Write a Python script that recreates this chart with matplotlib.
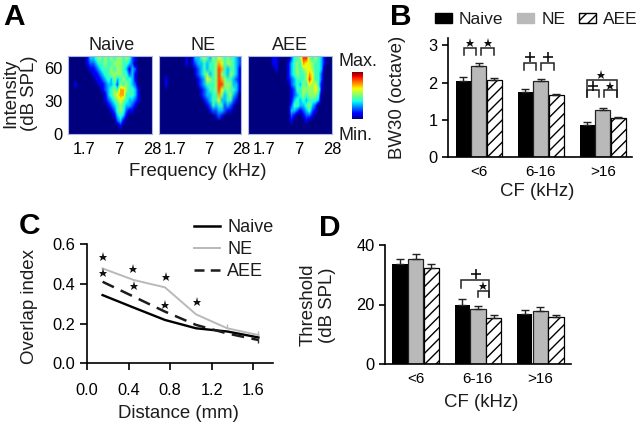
import numpy as np
import matplotlib
matplotlib.use('Agg')
import matplotlib.pyplot as plt
from matplotlib.patches import Patch
from matplotlib.lines import Line2D
from matplotlib.cm import ScalarMappable
from matplotlib.colors import Normalize

plt.rcParams['font.family'] = ['Liberation Sans', 'DejaVu Sans']
plt.rcParams['hatch.linewidth'] = 1.0
plt.rcParams['text.color'] = '#1c1c1c'
plt.rcParams['axes.linewidth'] = 1.2

W, H = 640, 423
TICK = 11.8
LABEL = 13.4

# Panel A: tuning maps, rows from 70 dB down to 0 dB (relative response, digits 0-9)
intensity_top = 71
freq_ticks = [1.7, 7, 28]
intensity_ticks = [0, 30, 60]
map_titles = ['Naive', 'NE', 'AEE']
map_naive = [
    "0000 0013 3454 5454 5545 4210 0000",
    "0000 0012 2344 5445 5544 3200 0000",
    "0000 0001 1234 4454 5543 1320 0000",
    "0000 0000 1123 4455 5544 2310 0000",
    "0000 0000 0112 3435 3454 4310 0000",
    "0010 0000 0011 2334 2545 4320 0000",
    "0000 0000 0001 2345 4775 4431 0000",
    "0000 0000 0000 1345 6774 4431 0000",
    "0000 0000 0000 1234 5654 3321 0000",
    "0000 0000 0000 0123 4543 3210 0000",
    "0000 0000 0000 0012 4542 1100 0000",
    "0000 0000 0000 0001 3431 0000 0000",
    "0000 0000 0000 0000 2310 0000 0000",
    "0000 0000 0000 0000 0100 0000 0000",
    "0000 0000 0000 0000 0000 0000 0000",
]
map_ne = [
    "0000 0000 0101 3345 4354 6545 4432",
    "0000 0000 0101 2334 3445 7645 5432",
    "0000 0000 0000 1234 3445 8743 4431",
    "0000 0000 0000 1234 5345 8543 5431",
    "0010 0000 0000 0123 6545 8754 4321",
    "0010 0000 0000 0123 4445 8855 5331",
    "0000 0000 0000 0012 3445 8645 4431",
    "0000 0000 0000 0012 3344 7534 5320",
    "0000 0000 0000 0001 2344 6334 4210",
    "0000 0000 0000 0000 1243 4423 2100",
    "0000 0000 0000 0000 0122 3321 1000",
    "0000 0000 0000 0000 0001 2100 0000",
    "0000 0000 0000 0000 0000 0000 0000",
    "0000 0000 0000 0000 0000 0000 0000",
    "0000 0000 0000 0000 0000 0000 0000",
]
map_aee = [
    "0000 0000 1100 0024 4588 5454 3100",
    "0000 0000 1100 0134 5476 6544 3100",
    "0000 0000 0100 0134 5456 6544 3000",
    "0000 0000 0000 0134 5445 7644 2000",
    "0000 0000 0000 0123 4445 8644 2000",
    "0000 0000 0000 0023 4354 6564 1000",
    "0000 0000 0000 0012 4455 5565 1000",
    "0000 0000 0000 0012 3454 5554 0000",
    "0000 0000 0000 0013 4343 4443 0000",
    "0000 0000 0000 0024 4334 5320 0000",
    "0000 0000 0000 0033 2123 4210 0000",
    "0000 0000 0000 0021 0012 2100 0000",
    "0000 0000 0000 0010 0001 0000 0000",
    "0000 0000 0000 0000 0000 0000 0000",
    "0000 0000 0000 0000 0000 0000 0000",
]

# Panel B
cf_groups = ['<6', '6-16', '>16']
bw_naive = [2.05, 1.75, 0.85]
bw_ne = [2.45, 2.05, 1.27]
bw_aee = [2.08, 1.67, 1.05]
bw_naive_err = [0.10, 0.08, 0.08]
bw_ne_err = [0.07, 0.04, 0.05]
bw_aee_err = [0.05, 0.03, 0.03]

# Panel C
distance = [0.15, 0.45, 0.75, 1.05, 1.35, 1.65]
overlap_naive = [0.343, 0.28, 0.218, 0.176, 0.16, 0.13]
overlap_ne = [0.477, 0.419, 0.382, 0.246, 0.176, 0.142]
overlap_aee = [0.41, 0.335, 0.26, 0.193, 0.15, 0.117]
overlap_ne_err = [0, 0, 0, 0, 0.02, 0.02]
overlap_naive_err = [0, 0, 0, 0, 0, 0.03]
stars_x = [0.155, 0.155, 0.445, 0.45, 0.76, 0.75, 1.06]
stars_y = [0.533, 0.454, 0.476, 0.387, 0.436, 0.295, 0.307]

# Panel D
th_naive = [33.6, 20.0, 16.8]
th_ne = [35.3, 18.5, 17.9]
th_aee = [32.4, 15.5, 15.8]
th_naive_err = [1.6, 1.7, 1.2]
th_ne_err = [1.7, 1.0, 1.1]
th_aee_err = [1.3, 0.9, 0.8]

fig = plt.figure(figsize=(W / 100, H / 100), dpi=100)


def box(x0, y0, x1, y1):
    return fig.add_axes([x0 / W, 1 - y1 / H, (x1 - x0) / W, (y1 - y0) / H])


def label(x, y, s, **kw):
    kw.setdefault('size', LABEL)
    kw.setdefault('ha', 'center')
    kw.setdefault('va', 'center')
    return fig.text(x / W, 1 - y / H, s, **kw)


def parse(rows):
    return np.array([[int(c) for c in r.replace(' ', '')] for r in rows], float)


# ---------- A
panels = [(68, 152), (159, 241), (248, 332)]
for (x0, x1), grid, title, tx in zip(panels, [map_naive, map_ne, map_aee], map_titles, [112, 203, 290]):
    ax = box(x0, 56, x1, 134)
    ax.imshow(parse(grid), cmap='jet', vmin=0, vmax=9.5, aspect='auto',
              interpolation='bilinear', extent=[-0.215, 4.805, 0, intensity_top])
    ax.set_xticks(np.log2(freq_ticks), [str(f) for f in freq_ticks], size=TICK)
    ax.tick_params(length=0, pad=6)
    if x0 == 68:
        ax.set_yticks(intensity_ticks, [str(v) for v in intensity_ticks], size=TICK)
        ax.tick_params(axis='y', pad=4)
    else:
        ax.set_yticks([])
    for s in ax.spines.values():
        s.set_color('#aab8e2')
        s.set_linewidth(0.8)
    label(tx, 45, title, size=13)

label(20, 93, 'Intensity\n(dB SPL)', rotation=90, linespacing=1.1, multialignment='center')
label(198, 171, 'Frequency (kHz)')

cax = box(352, 72, 363, 119)
cb = fig.colorbar(ScalarMappable(Normalize(0, 1), cmap='jet'), cax=cax)
cb.set_ticks([])
cb.outline.set_visible(False)
label(358, 62, 'Max.', size=13)
label(356, 135, 'Min.', size=13)


# ---------- bars
def bars(ax, a, b, c, ea, eb, ec):
    x = np.arange(3)
    w = 0.25
    kw = dict(capsize=3, error_kw=dict(lw=1, capthick=1, ecolor='#222222'))
    ax.bar(x - w, a, w * 0.97, yerr=[[0] * 3, ea], color='black', **kw)
    ax.bar(x, b, w * 0.97, yerr=[[0] * 3, eb], color='#b9b9b9', edgecolor='#222222', linewidth=0.9, **kw)
    ax.bar(x + w, c, w * 0.97, yerr=[[0] * 3, ec], color='white', edgecolor='black',
           hatch='///', linewidth=0.9, **kw)
    ax.set_xticks(x, cf_groups, size=11)
    ax.tick_params(axis='x', length=0, pad=6)
    ax.tick_params(axis='y', direction='out', length=4.6, width=1.2, labelsize=TICK, pad=3)
    ax.spines[['top', 'right']].set_visible(False)
    ax.patch.set_alpha(0)


def bracket(ax, x0, x1, top, y0, y1):
    ax.plot([x0, x0, x1, x1], [y0, top, top, y1], color='#222222', lw=1.1, clip_on=False, solid_joinstyle='miter')


def mark(ax, x, y, s='*'):
    ax.plot([x], [y], marker='*' if s == '*' else '+', ms=6.5 if s == '*' else 7, mew=0 if s == '*' else 1.2,
            color='#111111', clip_on=False, linestyle='none')


# ---------- B
ax = box(448, 38, 632, 157)
bars(ax, bw_naive, bw_ne, bw_aee, bw_naive_err, bw_ne_err, bw_aee_err)
ax.set_xlim(-0.5, 2.47)
ax.set_ylim(0, 3.2)
ax.set_yticks([0, 1, 2, 3])
for args in [(-0.24, -0.04, 2.94, 2.74, 2.74), (0.04, 0.24, 2.94, 2.74, 2.74),
             (0.727, 0.925, 2.52, 2.34, 2.34), (1.005, 1.21, 2.52, 2.34, 2.34),
             (1.74, 2.22, 2.07, 1.6, 1.6), (1.74, 1.94, 1.8, 1.6, 1.6), (2.01, 2.22, 1.8, 1.6, 1.6)]:
    bracket(ax, *args)
for x, y, s in [(-0.14, 3.07, '*'), (0.14, 3.07, '*'), (0.82, 2.7, '+'), (1.12, 2.7, '+'),
                (1.97, 2.2, '*'), (1.845, 1.92, '+'), (2.11, 1.92, '*')]:
    mark(ax, x, y, s)
handles = [Patch(facecolor='black', edgecolor='black'),
           Patch(facecolor='#b9b9b9', edgecolor='#b9b9b9'),
           Patch(facecolor='white', edgecolor='black', hatch='///')]
fig.legend(handles, map_titles, ncol=3, loc='center left', bbox_to_anchor=(435 / W, 1 - 20 / H),
           frameon=False, fontsize=12.5, borderpad=0, borderaxespad=0, handlelength=0.98,
           handleheight=0.52, handletextpad=0.4, columnspacing=0.8)
label(398, 97, 'BW30 (octave)', rotation=90)
label(537, 191, 'CF (kHz)')

# ---------- C
ax = box(87, 244, 273, 363.3)
ax.plot(distance, overlap_naive, color='black', lw=1.7)
ax.plot(distance, overlap_ne, color='#b9b9b9', lw=1.4)
ax.plot(distance, overlap_aee, color='#1c1c1c', lw=1.8, dashes=(5, 3))
ax.errorbar(distance, overlap_ne, yerr=[[0] * 6, overlap_ne_err], fmt='none', ecolor='#b9b9b9', lw=1)
ax.errorbar(distance, overlap_naive, yerr=[overlap_naive_err, [0] * 6], fmt='none', ecolor='#333333', lw=1)
ax.plot(stars_x, stars_y, linestyle='none', marker='*', ms=6.5, mew=0, color='#111111')
ax.set_xlim(0, 1.79)
ax.set_ylim(0, 0.6)
ax.set_xticks([0, 0.4, 0.8, 1.2, 1.6], ['0.0', '0.4', '0.8', '1.2', '1.6'])
ax.set_yticks([0, 0.2, 0.4, 0.6], ['0.0', '0.2', '0.4', '0.6'])
ax.tick_params(axis='both', direction='out', length=4.8, width=1.2, labelsize=TICK)
ax.tick_params(axis='x', pad=9.5)
ax.spines[['top', 'right']].set_visible(False)
line_handles = [Line2D([], [], color='black', lw=1.8),
                Line2D([], [], color='#b9b9b9', lw=1.4),
                Line2D([], [], color='#1c1c1c', lw=1.8, dashes=(4, 2.5))]
fig.legend(line_handles, map_titles, loc='upper left', bbox_to_anchor=(194 / W, 1 - 219 / H), frameon=False,
           fontsize=13, borderpad=0, borderaxespad=0, handlelength=1.44, handletextpad=0.4, labelspacing=0.28)
label(29, 306, 'Overlap index', rotation=90)
label(178, 413, 'Distance (mm)')

# ---------- D
ax = box(385, 245, 571, 364)
bars(ax, th_naive, th_ne, th_aee, th_naive_err, th_ne_err, th_aee_err)
ax.set_xlim(-0.49, 2.49)
ax.set_ylim(0, 40)
ax.set_yticks([0, 20, 40])
bracket(ax, 0.72, 1.18, 28.2, 25.4, 22.4)
bracket(ax, 0.995, 1.18, 24.6, 22.4, 22.4)
mark(ax, 0.96, 30.2, '+')
mark(ax, 1.086, 26.1, '*')
label(318, 305, 'Threshold\n(dB SPL)', rotation=90, linespacing=1.15, multialignment='center')
label(481, 402, 'CF (kHz)')

# ---------- panel letters
for x, y, s in [(14, 17, 'A'), (401, 17, 'B'), (30, 226, 'C'), (330, 228, 'D')]:
    label(x, y, s, size=21.5, weight='bold', color='black')

fig.savefig('out.png', dpi=100)
